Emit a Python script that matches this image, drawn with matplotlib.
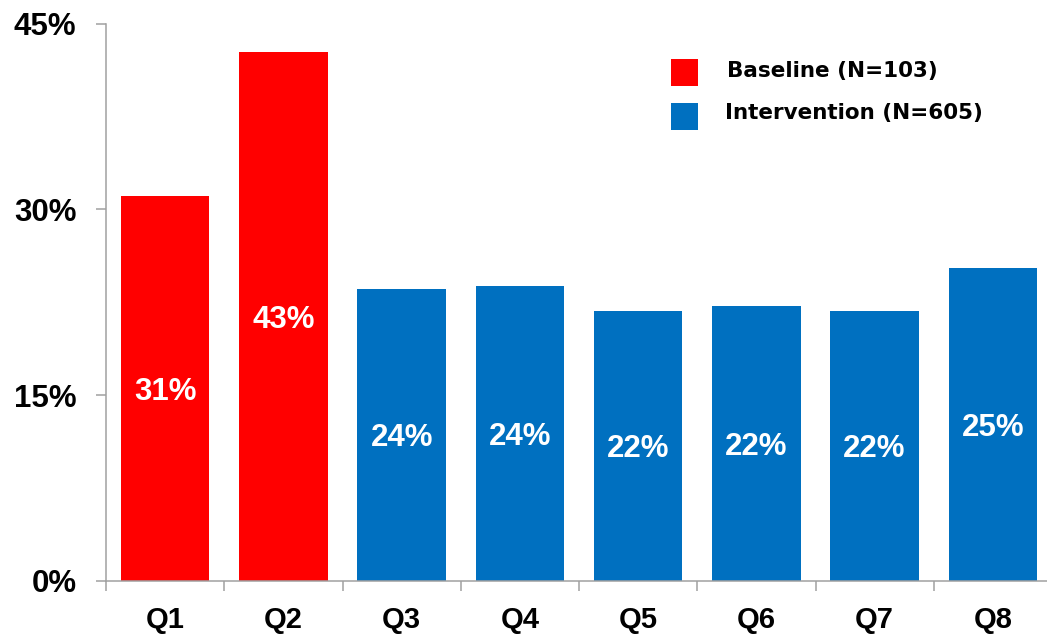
import matplotlib
matplotlib.use("Agg")
import matplotlib.pyplot as plt
from matplotlib.patches import Rectangle
import numpy as np

categories = ["Q1", "Q2", "Q3", "Q4", "Q5", "Q6", "Q7", "Q8"]
values = [31.1, 42.7, 23.6, 23.8, 21.8, 22.2, 21.8, 25.3]
labels = ["31%", "43%", "24%", "24%", "22%", "22%", "22%", "25%"]
groups = ["Baseline", "Baseline", "Intervention", "Intervention",
          "Intervention", "Intervention", "Intervention", "Intervention"]
legend_order = ["Baseline", "Intervention"]
legend_labels = {"Baseline": "Baseline (N=103)", "Intervention": "Intervention (N=605)"}
colors = {"Baseline": "#FF0000", "Intervention": "#0070C0"}
yticks = [0, 15, 30, 45]
ytick_labels = ["0%", "15%", "30%", "45%"]

plt.rcParams["font.family"] = ["Liberation Sans", "DejaVu Sans"]
plt.rcParams["font.weight"] = "bold"

W, H = 1047, 637
fig = plt.figure(figsize=(W / 100, H / 100), dpi=100)
ax = fig.add_axes([106 / W, 56 / H, (1052 - 106) / W, (613.5 - 56) / H])

x = np.arange(len(categories))
ax.bar(x, values, width=0.75, color=[colors[g] for g in groups], zorder=2)
for xi, v, lab in zip(x, values, labels):
    ax.text(xi, v / 2, lab, ha="center", va="center_baseline", color="white",
            fontsize=22.5, fontweight="bold")

ax.set_xlim(-0.5, len(categories) - 0.5)
ax.set_ylim(0, 45)
ax.set_yticks(yticks)
ax.set_yticklabels(ytick_labels, fontsize=22.5, fontweight="bold")
ax.set_xticks(x)
ax.set_xticklabels(categories, fontsize=21, fontweight="bold")
ax.set_xticks(np.arange(len(categories) + 1) - 0.5, minor=True)
ax.tick_params(axis="x", which="major", length=0, pad=18)
ax.tick_params(axis="x", which="minor", length=7.2, width=1.1, color="#A0A0A0", direction="out")
ax.tick_params(axis="y", length=7.2, width=1.1, color="#A0A0A0", direction="out", pad=14)

for s in ["top", "right"]:
    ax.spines[s].set_visible(False)
for s in ["left", "bottom"]:
    ax.spines[s].set_color("#A0A0A0")
    ax.spines[s].set_linewidth(1.1)

# legend (drawn in figure pixel coordinates)
sq_top = [59, 103]
txt_base = [77, 119]
txt_x = [727, 725]
for g, top, tb, tx in zip(legend_order, sq_top, txt_base, txt_x):
    fig.add_artist(Rectangle((671 / W, 1 - (top + 27) / H), 27 / W, 27 / H,
                             facecolor=colors[g], edgecolor="none",
                             transform=fig.transFigure))
    fig.text(tx / W, 1 - tb / H, legend_labels[g], ha="left", va="baseline",
             fontsize=15.5, fontweight="bold", family="DejaVu Sans")

fig.savefig("out.png", dpi=100)
